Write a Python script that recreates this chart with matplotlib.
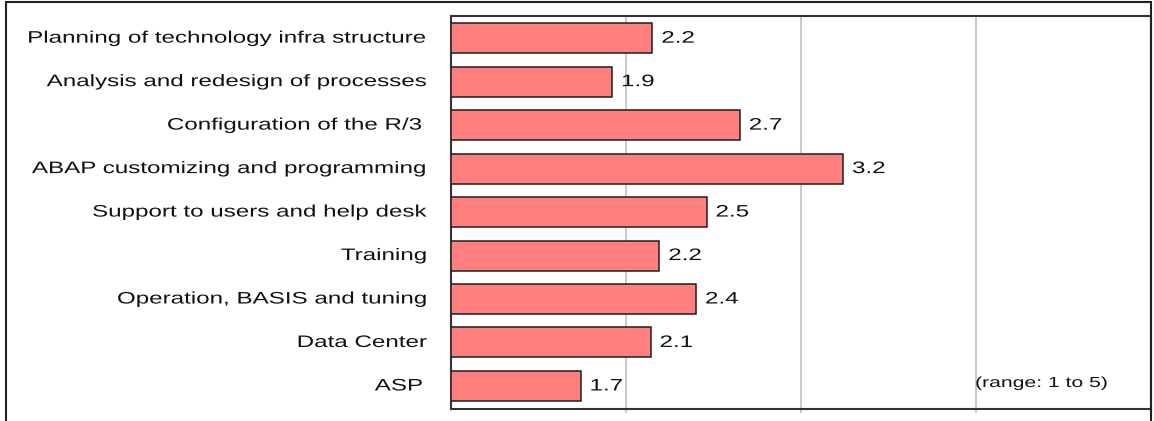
import matplotlib
matplotlib.use("Agg")
import matplotlib.pyplot as plt
from matplotlib.patches import Rectangle
from matplotlib.patheffects import AbstractPathEffect
from matplotlib.transforms import Affine2D

categories = [
    "Planning of technology infra structure",
    "Analysis and redesign of processes",
    "Configuration of the R/3 ",
    "ABAP customizing and programming",
    "Support to users and help desk",
    "Training",
    "Operation, BASIS and tuning",
    "Data Center",
    "ASP ",
]
values = [2.15, 1.92, 2.65, 3.24, 2.46, 2.19, 2.40, 2.14, 1.74]
value_labels = ["2.2", "1.9", "2.7", "3.2", "2.5", "2.2", "2.4", "2.1", "1.7"]
note = "(range: 1 to 5)"
x_min, x_max = 1, 5
grid_ticks = [2, 3, 4]

W, H = 1154, 421
STRETCH = 1.45
FONT = ["Liberation Sans", "DejaVu Sans"]


class HStretch(AbstractPathEffect):
    """Widen glyphs horizontally (the reference screenshot is stretched)."""
    def __init__(self, sx, anchor="left"):
        super().__init__()
        self.sx = sx
        self.anchor = anchor

    def draw_path(self, renderer, gc, tpath, affine, rgbFace=None):
        ext = tpath.get_extents(affine)
        m = affine.get_matrix().copy()
        m[0, 0] *= self.sx
        m[0, 1] *= self.sx
        new = Affine2D(m)
        if self.anchor == "right":
            ext2 = tpath.get_extents(new)
            new = new.translate(ext.x1 - ext2.x1, 0)
        renderer.draw_path(gc, tpath, new, rgbFace)


fig = plt.figure(figsize=(W / 100, H / 100), dpi=100)
fig.patch.set_facecolor("white")

# outer frame
fig.add_artist(Rectangle((6 / W, -0.1), (1151 - 6) / W, (H - 2) / H + 0.1,
                         transform=fig.transFigure, fill=False,
                         lw=1.5, ec="#222222"))

ax = fig.add_axes([451 / W, 12 / H, 700 / W, 393 / H])
ypos = list(range(len(categories)))
ax.barh(ypos, [v - x_min for v in values], left=x_min, height=0.69,
        color="#FF7F7F", edgecolor="#1e1e1e", linewidth=1.1, zorder=3)

ax.set_xlim(x_min, x_max)
ax.set_ylim(len(categories) - 1 + 0.53, -0.51)
ax.set_xticks(grid_ticks)
ax.set_yticks([])
ax.grid(axis="x", color="#c0c0c0", lw=1.2, zorder=0)
ax.set_axisbelow(True)
ax.tick_params(axis="x", length=3, width=1.2, color="#c0c0c0",
               labelbottom=False)
for s in ax.spines.values():
    s.set_linewidth(1.5)
    s.set_color("#333333")

for i, (cat, v, lab) in enumerate(zip(categories, values, value_labels)):
    t = ax.text(-24 / 700, i, cat, transform=ax.get_yaxis_transform(),
                ha="right", va="center", fontsize=12, family=FONT,
                color="#111111", clip_on=False)
    t.set_path_effects([HStretch(STRETCH, "right")])
    a = ax.annotate(lab, (v, i), xytext=(6.5, 0), textcoords="offset points",
                    ha="left", va="center", fontsize=12, family=FONT,
                    color="#111111")
    a.set_path_effects([HStretch(STRETCH, "left")])

n = ax.text((1108 - 451) / 700, (409 - 383) / 393, note,
            transform=ax.transAxes, ha="right", va="center",
            fontsize=10.5, family=FONT, color="#111111")
n.set_path_effects([HStretch(STRETCH, "right")])

fig.savefig("out.png", dpi=100)
